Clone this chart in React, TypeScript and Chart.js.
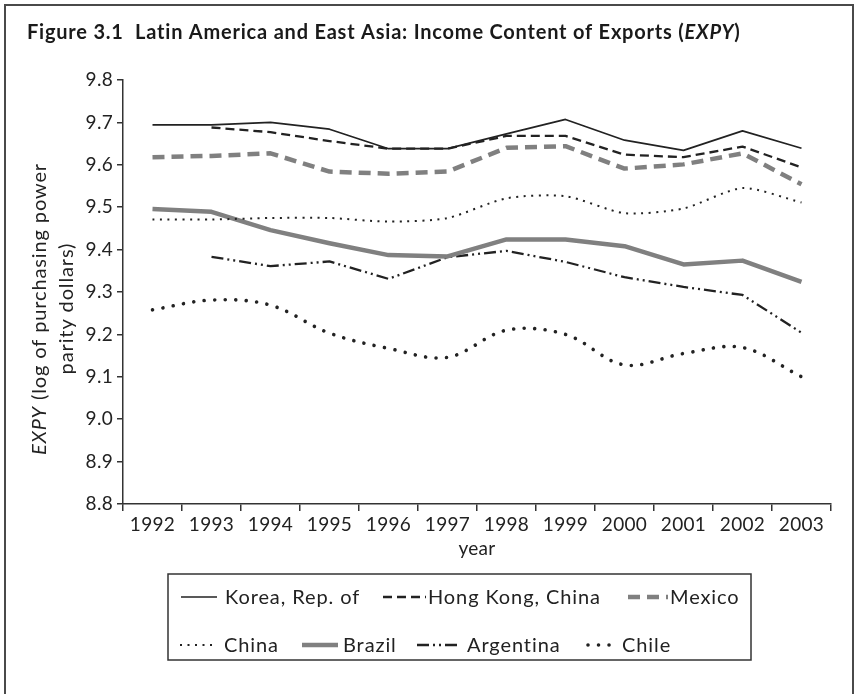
import React, { useEffect, useRef } from "react";
import { Chart, registerables } from "chart.js";

Chart.register(...registerables);

const years = ["1992", "1993", "1994", "1995", "1996", "1997", "1998", "1999", "2000", "2001", "2002", "2003"];
const korea = [9.694, 9.694, 9.7, 9.684, 9.638, 9.638, 9.673, 9.707, 9.658, 9.634, 9.68, 9.639];
const hongKong = [null, 9.688, 9.677, 9.656, 9.638, 9.638, 9.668, 9.668, 9.624, 9.618, 9.643, 9.594];
const mexico = [9.618, 9.621, 9.627, 9.584, 9.579, 9.584, 9.64, 9.644, 9.591, 9.601, 9.627, 9.554];
const china = [9.471, 9.471, 9.4745, 9.4745, 9.466, 9.4745, 9.521, 9.526, 9.486, 9.497, 9.545, 9.511];
const brazil = [9.496, 9.489, 9.446, 9.415, 9.387, 9.384, 9.424, 9.424, 9.408, 9.365, 9.374, 9.324];
const argentina = [null, 9.383, 9.361, 9.372, 9.331, 9.382, 9.397, 9.371, 9.335, 9.312, 9.293, 9.204];
const chile = [9.258, 9.281, 9.269, 9.203, 9.167, 9.146, 9.21, 9.2, 9.128, 9.155, 9.169, 9.1];

const yMin = 8.8;
const yMax = 9.8;
const yStep = 0.1;

const BLACK = "#222222";
const GREY = "#808080";
const FONT = "Lato, 'Open Sans', sans-serif";

type Style = { label: string; data: (number | null)[]; color: string; width: number; dash: number[]; cap: CanvasLineCap; tension: number };

const series: Style[] = [
  { label: "Korea, Rep. of", data: korea, color: BLACK, width: 1.7, dash: [], cap: "butt", tension: 0 },
  { label: "Hong Kong, China", data: hongKong, color: BLACK, width: 2.3, dash: [9, 5], cap: "butt", tension: 0 },
  { label: "Mexico", data: mexico, color: GREY, width: 4.5, dash: [12, 7], cap: "butt", tension: 0 },
  { label: "China", data: china, color: BLACK, width: 2, dash: [2, 5.5], cap: "butt", tension: 0.25 },
  { label: "Brazil", data: brazil, color: GREY, width: 4.5, dash: [], cap: "butt", tension: 0 },
  { label: "Argentina", data: argentina, color: BLACK, width: 2.3, dash: [12, 4, 2, 4, 2, 4], cap: "butt", tension: 0 },
  { label: "Chile", data: chile, color: BLACK, width: 3.6, dash: [0.01, 10.5], cap: "round", tension: 0.35 },
];

// legend layout: [row, sampleX, sampleLen, textX]
const legendLayout: [number, number, number, number][] = [
  [0, 181, 36, 225],
  [0, 383, 43, 428],
  [0, 628, 40, 670],
  [1, 180, 37, 224],
  [1, 302, 36, 343],
  [1, 417, 44, 467],
  [1, 588, 30, 622],
];

function setSpacing(ctx: CanvasRenderingContext2D, px: number) {
  (ctx as any).letterSpacing = `${px}px`;
}

const decorPlugin = {
  id: "decor",
  beforeDraw(chart: any) {
    setSpacing(chart.ctx, 0.3);
  },
  afterDraw(chart: any) {
    const ctx = chart.ctx as CanvasRenderingContext2D;
    ctx.save();
    setSpacing(ctx, 0);
    // frame
    ctx.strokeStyle = "#4a4a4a";
    ctx.lineWidth = 2;
    ctx.beginPath();
    ctx.moveTo(5, 694);
    ctx.lineTo(5, 5);
    ctx.lineTo(853, 5);
    ctx.lineTo(853, 694);
    ctx.stroke();

    // title
    ctx.fillStyle = "#1a1a1a";
    ctx.textBaseline = "alphabetic";
    ctx.textAlign = "left";
    const tParts: [string, string][] = [
      ["Figure 3.1  Latin America and East Asia: Income Content of Exports (", `bold 20px ${FONT}`],
      ["EXPY", `italic bold 20px ${FONT}`],
      [")", `bold 20px ${FONT}`],
    ];
    let total = 0;
    let nch = 0;
    for (const [t, f] of tParts) {
      ctx.font = f;
      total += ctx.measureText(t).width;
      nch += t.length;
    }
    const tSp = Math.max(0, (714 - total) / nch);
    setSpacing(ctx, tSp);
    let tx = 27;
    for (const [t, f] of tParts) {
      ctx.font = f;
      ctx.fillText(t, tx, 39);
      tx += ctx.measureText(t).width;
    }

    // y title
    ctx.save();
    ctx.rotate(-Math.PI / 2);
    ctx.textBaseline = "middle";
    ctx.fillStyle = BLACK;
    const l1a = "EXPY";
    const l1b = " (log of purchasing power";
    setSpacing(ctx, 0);
    ctx.font = `italic 20px ${FONT}`;
    const wa0 = ctx.measureText(l1a).width;
    ctx.font = `20px ${FONT}`;
    const wb0 = ctx.measureText(l1b).width;
    const ySp = Math.max(0, (292 - wa0 - wb0) / (l1a.length + l1b.length));
    setSpacing(ctx, ySp);
    ctx.font = `italic 20px ${FONT}`;
    const wa = ctx.measureText(l1a).width;
    ctx.font = `20px ${FONT}`;
    const wb = ctx.measureText(l1b).width;
    const cy = -309;
    const sx = cy - (wa + wb) / 2;
    ctx.font = `italic 20px ${FONT}`;
    ctx.fillText(l1a, sx, 40);
    ctx.font = `20px ${FONT}`;
    ctx.fillText(l1b, sx + wa, 40);
    ctx.textAlign = "center";
    ctx.fillText("parity dollars)", cy + ySp / 2, 67);
    ctx.restore();

    // legend
    setSpacing(ctx, 0);
    ctx.strokeStyle = "#333";
    ctx.lineWidth = 1.5;
    ctx.strokeRect(168, 574, 583, 86);
    const rowY = [597, 645];
    ctx.font = `20px ${FONT}`;
    ctx.textBaseline = "middle";
    ctx.textAlign = "left";
    series.forEach((s, i) => {
      const [row, sxp, len, txp] = legendLayout[i];
      const y = rowY[row];
      ctx.save();
      setSpacing(ctx, 0);
      ctx.strokeStyle = s.color;
      ctx.lineWidth = s.width;
      ctx.setLineDash(s.dash);
      ctx.lineCap = s.cap;
      ctx.beginPath();
      ctx.moveTo(sxp, y);
      ctx.lineTo(sxp + len, y);
      ctx.stroke();
      ctx.restore();
      setSpacing(ctx, 0.9);
      ctx.fillStyle = BLACK;
      ctx.fillText(s.label, txp, y + 1);
    });
    ctx.restore();
    setSpacing(ctx, 0);
  },
};

export default function App() {
  const ref = useRef<HTMLCanvasElement | null>(null);
  useEffect(() => {
    document.body.style.margin = "0";
    if (!ref.current) return;
    const chart = new Chart(ref.current, {
      type: "line",
      data: {
        labels: years,
        datasets: series.map((s) => ({
          label: s.label,
          data: s.data,
          borderColor: s.color,
          backgroundColor: s.color,
          borderWidth: s.width,
          borderDash: s.dash,
          borderCapStyle: s.cap,
          borderJoinStyle: "round",
          tension: s.tension,
          pointRadius: 0,
          fill: false,
        })),
      },
      options: {
        responsive: false,
        animation: false,
        layout: { padding: { left: 58, right: 25, top: 80, bottom: 134 } },
        plugins: { legend: { display: false }, title: { display: false }, tooltip: { enabled: false } },
        scales: {
          x: {
            offset: true,
            grid: { display: true, drawOnChartArea: false, offset: true, tickLength: 7, color: "#333", lineWidth: 1.5 },
            border: { color: "#333", width: 1.5 },
            ticks: { font: { family: FONT, size: 19 }, color: BLACK, padding: 2, maxRotation: 0 },
            title: { display: true, text: "year", font: { family: FONT, size: 19 }, color: BLACK, padding: { top: 0, bottom: 0 } },
            afterFit: (s: any) => { s.height = 56; },
          },
          y: {
            min: yMin,
            max: yMax,
            grid: { display: true, drawOnChartArea: false, tickLength: 6, color: "#333", lineWidth: 1.5 },
            border: { color: "#333", width: 1.5 },
            ticks: {
              stepSize: yStep,
              font: { family: FONT, size: 19 },
              color: BLACK,
              padding: 4,
              callback: (v: any) => Number(v).toFixed(1),
            },
            afterFit: (s: any) => { s.width = 65; },
          },
        },
      },
      plugins: [decorPlugin],
    } as any);
    return () => chart.destroy();
  }, []);
  return <canvas ref={ref} width={856} height={694} style={{ display: "block" }} />;
}
